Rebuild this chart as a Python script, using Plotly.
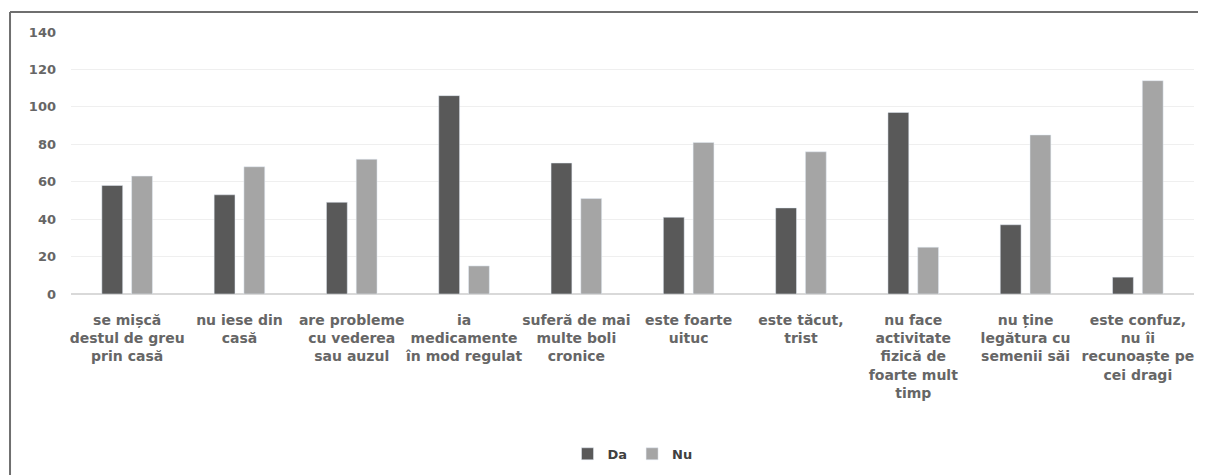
import plotly.graph_objects as go

# Categories (x axis), wrapped as in the original chart
categories = [
    "se mișcă<br>destul de greu<br>prin casă",
    "nu iese din<br>casă",
    "are probleme<br>cu vederea<br>sau auzul",
    "ia<br>medicamente<br>în mod regulat",
    "suferă de mai<br>multe boli<br>cronice",
    "este foarte<br>uituc",
    "este tăcut,<br>trist",
    "nu face<br>activitate<br>fizică de<br>foarte mult<br>timp",
    "nu ține<br>legătura cu<br>semenii săi",
    "este confuz,<br>nu îi<br>recunoaște pe<br>cei dragi",
]

# Series values
da = [58, 53, 49, 106, 70, 41, 46, 97, 37, 9]
nu = [63, 68, 72, 15, 51, 81, 76, 25, 85, 114]

# Y ticks
y_ticks = [0, 20, 40, 60, 80, 100, 120, 140]

fig = go.Figure()

fig.add_trace(
    go.Bar(x=categories, y=da, name="Da",
           marker=dict(color="#595959")))

fig.add_trace(
    go.Bar(x=categories, y=nu, name="Nu",
           marker=dict(color="#a5a5a5")))

# page body has an 8px margin, so the figure is 8px smaller than the window
fig.update_layout(
    width=1198, height=467,
    barmode="group",
    bargap=0.47,
    bargroupgap=0.3,
    plot_bgcolor="white",
    paper_bgcolor="white",
    font=dict(family="DejaVu Sans, sans-serif", color="#595959", size=13),
    margin=dict(l=63, r=12, t=24, b=181, autoexpand=False),
    showlegend=True,
    legend=dict(orientation="h", x=0.5, xanchor="center",
                y=-0.61, yanchor="middle",
                itemwidth=30,
                font=dict(size=13, color="#404040", weight="bold")),
)

fig.update_yaxes(
    range=[0, 140],
    tickvals=y_ticks,
    showgrid=True, gridcolor="#efefef", gridwidth=1,
    zeroline=True, zerolinecolor="#d9d9d9",
    showline=False,
    ticklabelstandoff=14,
    tickfont=dict(size=13, color="#666666", weight="bold"),
)

fig.update_xaxes(
    showline=False,
    ticks="",
    tickangle=0,
    ticklabelstandoff=16,
    tickfont=dict(size=14, color="#666666", weight="bold"),
)

# frame lines (top and left only, as in the screenshot)
fig.add_shape(type="line", xref="paper", yref="paper",
              x0=-0.0543, x1=1.02, y0=1.076, y1=1.076,
              line=dict(color="#6f6f6f", width=2))
fig.add_shape(type="line", xref="paper", yref="paper",
              x0=-0.0543, x1=-0.0543, y0=-0.70, y1=1.076,
              line=dict(color="#6f6f6f", width=2))

fig.write_html("out.html")
